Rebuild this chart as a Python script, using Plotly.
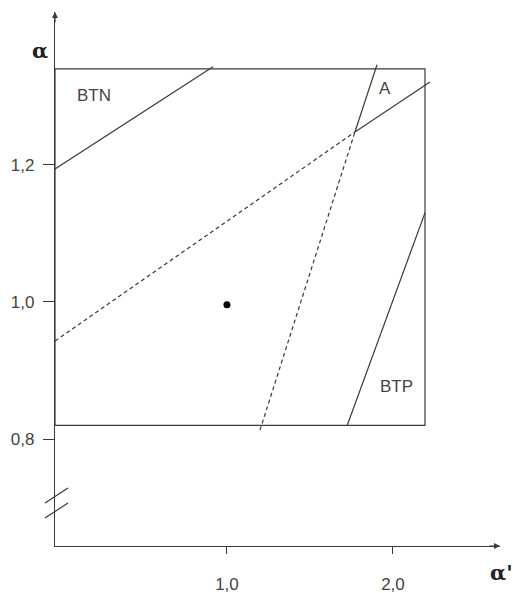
import plotly.graph_objects as go

# Parameter plane: alpha' (horizontal) vs alpha (vertical)
box_x = [-0.036, 2.193, 2.193, -0.036, -0.036]
box_y = [0.820, 0.820, 1.340, 1.340, 0.820]

# Boundary BTN (upper-left)
btn_x = [-0.036, 0.916]
btn_y = [1.194, 1.343]

# Shallow boundary: dashed part then solid part
shallow_dash_x = [-0.036, 1.771]
shallow_dash_y = [0.943, 1.248]
shallow_solid_x = [1.771, 2.223]
shallow_solid_y = [1.248, 1.321]

# Steep boundary: dashed part then solid part
steep_dash_x = [1.199, 1.771]
steep_dash_y = [0.813, 1.248]
steep_solid_x = [1.771, 1.904]
steep_solid_y = [1.248, 1.346]

# Boundary BTP (lower-right)
btp_x = [1.723, 2.193]
btp_y = [0.819, 1.130]

# Nominal operating point
pt_x = [1.0]
pt_y = [0.996]

x_ticks = [1.0, 2.0]
x_ticktext = ["1,0", "2,0"]
y_ticks = [0.8, 1.0, 1.2]
y_ticktext = ["0,8", "1,0", "1,2"]

region_labels = ["BTN", "A", "BTP"]
region_x = [0.199, 1.952, 2.024]
region_y = [1.301, 1.312, 0.877]

LC = "#3a3a3a"
TXT = "#444"
FONT = "Liberation Sans, Arial"
fig = go.Figure()

def seg(x, y, dash="solid", width=1.2):
    fig.add_trace(go.Scatter(x=x, y=y, mode="lines",
                             line=dict(color=LC, width=width, dash=dash),
                             hoverinfo="skip", showlegend=False))

seg(box_x, box_y)
seg(btn_x, btn_y)
seg(shallow_dash_x, shallow_dash_y, dash="4px,3px")
seg(shallow_solid_x, shallow_solid_y)
seg(steep_dash_x, steep_dash_y, dash="4px,3px")
seg(steep_solid_x, steep_solid_y)
seg(btp_x, btp_y)

fig.add_trace(go.Scatter(x=pt_x, y=pt_y, mode="markers",
                         marker=dict(color="black", size=7),
                         hoverinfo="skip", showlegend=False))

for t, x, y in zip(region_labels, region_x, region_y):
    fig.add_annotation(x=x, y=y, text=t, showarrow=False,
                       font=dict(family=FONT, size=17, color=TXT))

X0, X1 = -0.036, 2.645
Y0, Y1 = 0.644, 1.423

# Arrowheads at the ends of both axes
fig.add_annotation(x=X1, y=Y0, ax=-12, ay=0, xref="x", yref="y",
                   showarrow=True, arrowhead=2, arrowsize=1, arrowwidth=1.2,
                   arrowcolor=LC, text="")
fig.add_annotation(x=X0, y=Y1, ax=0, ay=12, xref="x", yref="y",
                   showarrow=True, arrowhead=2, arrowsize=1, arrowwidth=1.2,
                   arrowcolor=LC, text="")

# Axis titles, placed just outside the axes (paper coordinates)
fig.add_annotation(x=-0.034, y=0.927, xref="paper", yref="paper",
                   xanchor="center", yanchor="middle",
                   text="<b>α</b>", showarrow=False,
                   font=dict(family="DejaVu Serif", size=21, color="#222"))
fig.add_annotation(x=1.034, y=-0.049, xref="paper", yref="paper",
                   xanchor="right", yanchor="middle",
                   text="<b>α'</b>", showarrow=False,
                   font=dict(family="DejaVu Serif", size=21, color="#222"))

# Axis-break marks crossing the vertical axis
for y_lo, y_hi in [(0.0805, 0.1086), (0.0524, 0.0805)]:
    fig.add_shape(type="line", xref="paper", yref="paper",
                  x0=-0.0225, y0=y_lo, x1=0.0292, y1=y_hi,
                  line=dict(color=LC, width=1.2))

W, H = 518, 593
L, R, T, B = 55, 18, 12, 47

fig.update_layout(
    width=W, height=H,
    margin=dict(l=L, r=R, t=T, b=B, autoexpand=False),
    paper_bgcolor="white", plot_bgcolor="white",
    showlegend=False,
    xaxis=dict(range=[X0, X1], showgrid=False, zeroline=False, automargin=False,
               showline=True, linecolor=LC, linewidth=1.2,
               tickmode="array", tickvals=x_ticks, ticktext=x_ticktext,
               ticks="outside", ticklen=7, tickcolor=LC, ticklabelstandoff=15,
               tickfont=dict(family=FONT, size=17, color=TXT)),
    yaxis=dict(range=[Y0, Y1], showgrid=False, zeroline=False, automargin=False,
               showline=True, linecolor=LC, linewidth=1.2,
               tickmode="array", tickvals=y_ticks, ticktext=y_ticktext,
               ticks="outside", ticklen=11, tickcolor=LC, ticklabelstandoff=5,
               tickfont=dict(family=FONT, size=17, color=TXT)),
)

fig.write_html("out.html")
